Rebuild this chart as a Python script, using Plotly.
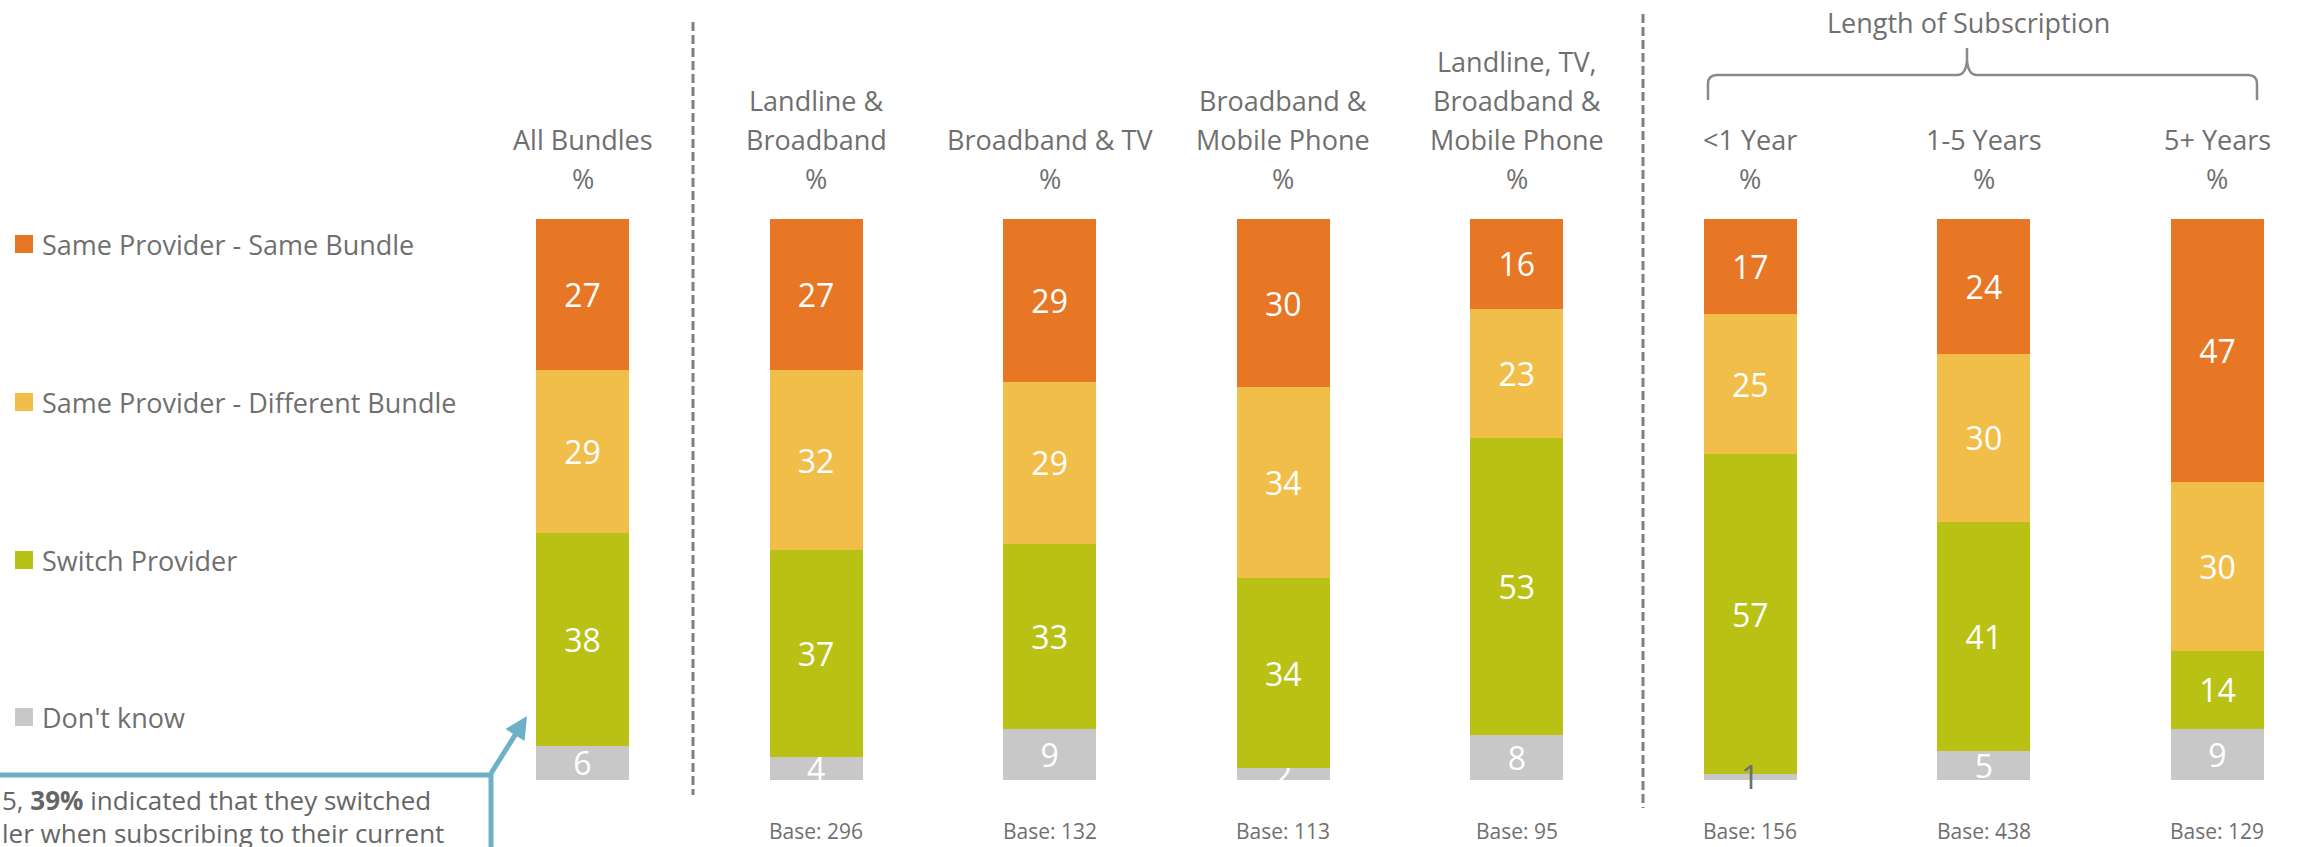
import plotly.graph_objects as go

W, H = 2300, 847

categories = ["All Bundles", "Landline & Broadband", "Broadband & TV",
              "Broadband & Mobile Phone", "Landline, TV, Broadband & Mobile Phone",
              "<1 Year", "1-5 Years", "5+ Years"]
header_lines = [["All Bundles", "%"],
                ["Landline &", "Broadband", "%"],
                ["Broadband & TV", "%"],
                ["Broadband &", "Mobile Phone", "%"],
                ["Landline, TV,", "Broadband &", "Mobile Phone", "%"],
                ["<1 Year", "%"],
                ["1-5 Years", "%"],
                ["5+ Years", "%"]]
bases = [None, 296, 132, 113, 95, 156, 438, 129]

dont_know = [6, 4, 9, 2, 8, 1, 5, 9]
switch_provider = [38, 37, 33, 34, 53, 57, 41, 14]
same_diff_bundle = [29, 32, 29, 34, 23, 25, 30, 30]
same_same_bundle = [27, 27, 29, 30, 16, 17, 24, 47]

series_names = ["Don't know", "Switch Provider",
                "Same Provider - Different Bundle", "Same Provider - Same Bundle"]
series_values = [dont_know, switch_provider, same_diff_bundle, same_same_bundle]
series_colors = ["#C8C8C8", "#B8C114", "#F1BE4A", "#E77724"]

TXT = "#6F6F6F"
FONT = "Open Sans"

# pixel geometry -> axis ranges
x0px, dxpx = 582.5, 233.57
bar_w = 93 / dxpx
y100px, y0px = 219.0, 779.5
ppu = (y0px - y100px) / 100.0
xr = [-x0px / dxpx, (W - x0px) / dxpx]
yr = [-(H - y0px) / ppu, y0px / ppu]


def px(x):
    return x / W


def py(y):
    return 1 - y / H


fig = go.Figure()
annotations = []
shapes = []

for name, vals, col in zip(series_names, series_values, series_colors):
    if name == "Don't know":
        # tiny segments: label drawn on top (dark) as in the reference
        texts = [str(v) if v > 1 else "" for v in vals]
        for cat, v in zip(categories, vals):
            if v <= 1:
                annotations.append(dict(x=cat, xref="x", y=v / 2, yref="y",
                                        text=str(v), showarrow=False,
                                        xanchor="center", yanchor="middle",
                                        font=dict(family=FONT, size=32, color=TXT)))
    else:
        texts = [str(v) for v in vals]
    fig.add_trace(go.Bar(
        x=categories, y=vals, name=name, width=bar_w,
        marker=dict(color=col, line=dict(width=0)),
        text=texts, textposition="inside",
        insidetextanchor="middle", textangle=0,
        textfont=dict(family=FONT, size=32, color="white"),
        showlegend=False, hoverinfo="skip"))

# headers
for cat, lines in zip(categories, header_lines):
    n = len(lines)
    for k, line in enumerate(lines):
        yline = 178 - 39 * (n - 1 - k)
        annotations.append(dict(x=cat, xref="x", y=py(yline), yref="paper",
                                text=line, showarrow=False, xanchor="center",
                                yanchor="middle",
                                font=dict(family=FONT, size=27, color=TXT)))
# bases
for cat, b in zip(categories, bases):
    if b is None:
        continue
    annotations.append(dict(x=cat, xref="x", y=py(831), yref="paper",
                            text=f"Base: {b}", showarrow=False, xanchor="center",
                            yanchor="middle",
                            font=dict(family=FONT, size=21, color=TXT)))

# length of subscription brace + title
annotations.append(dict(x=px(1968), xref="paper", y=py(22), yref="paper",
                        text="Length of Subscription", showarrow=False,
                        xanchor="center", yanchor="middle",
                        font=dict(family=FONT, size=27, color=TXT)))


def P(x, y):
    return f"{px(x):.6f},{py(y):.6f}"


brace = ("M" + P(1708, 100) + " L" + P(1708, 84) + " Q" + P(1708, 75) + " " + P(1717, 75)
         + " L" + P(1957, 75) + " Q" + P(1966, 75) + " " + P(1967, 60) + " L" + P(1967, 48)
         + " M" + P(1967, 60) + " Q" + P(1968, 75) + " " + P(1977, 75)
         + " L" + P(2248, 75) + " Q" + P(2257, 75) + " " + P(2257, 84) + " L" + P(2257, 100))
shapes.append(dict(type="path", xref="paper", yref="paper", path=brace,
                   line=dict(color="#8A8A8A", width=2.5)))

# dashed separators
for xpx_, ytop, ybot in [(693, 22, 795), (1643, 14, 808)]:
    shapes.append(dict(type="line", xref="paper", yref="paper",
                       x0=px(xpx_), x1=px(xpx_), y0=py(ytop), y1=py(ybot),
                       line=dict(color="#7F7F7F", width=3, dash="9px,4px")))

# custom legend (top to bottom)
legend_rows = list(zip(series_names[::-1], series_colors[::-1]))
legend_y = [244, 402, 560, 717]
for (name, col), yc in zip(legend_rows, legend_y):
    shapes.append(dict(type="rect", xref="paper", yref="paper",
                       x0=px(15), x1=px(33), y0=py(yc - 9), y1=py(yc + 9),
                       fillcolor=col, line=dict(width=0)))
    annotations.append(dict(x=px(40), xref="paper", y=py(yc), yref="paper",
                            text=name, showarrow=False, xanchor="left",
                            yanchor="middle",
                            font=dict(family=FONT, size=27, color=TXT)))

# callout box
BLUE = "#6FB0C9"
shapes.append(dict(type="path", xref="paper", yref="paper",
                   path="M" + P(-20, 775) + " L" + P(491, 775) + " L" + P(491, 900),
                   line=dict(color=BLUE, width=5)))
annotations.append(dict(x=px(527), xref="paper", y=py(716), yref="paper",
                        ax=-37, ay=59, axref="pixel", ayref="pixel",
                        text="", showarrow=True, arrowhead=2, arrowsize=0.9,
                        arrowwidth=5, arrowcolor=BLUE, standoff=0, startstandoff=0))
callout_lines = ["5, <b>39%</b> indicated that they switched",
                 "ler when subscribing to their current"]
for line, yc in zip(callout_lines, [800, 833]):
    annotations.append(dict(x=px(0), xref="paper", y=py(yc), yref="paper",
                            text=line, showarrow=False, xanchor="left",
                            yanchor="middle",
                            font=dict(family=FONT, size=26, color="#666666")))

fig.update_layout(
    width=W, height=H, barmode="stack",
    margin=dict(l=0, r=0, t=0, b=0, pad=0),
    paper_bgcolor="white", plot_bgcolor="white",
    xaxis=dict(range=xr, showgrid=False, zeroline=False, showticklabels=False,
               showline=False, fixedrange=True),
    yaxis=dict(range=yr, showgrid=False, zeroline=False, showticklabels=False,
               showline=False, fixedrange=True),
    uniformtext=dict(mode="show", minsize=32),
    annotations=annotations, shapes=shapes, showlegend=False,
)

fig.write_html("out.html", config={"displayModeBar": False},
               post_script="document.body.style.margin='0';"
                           "document.body.style.overflow='hidden';")
